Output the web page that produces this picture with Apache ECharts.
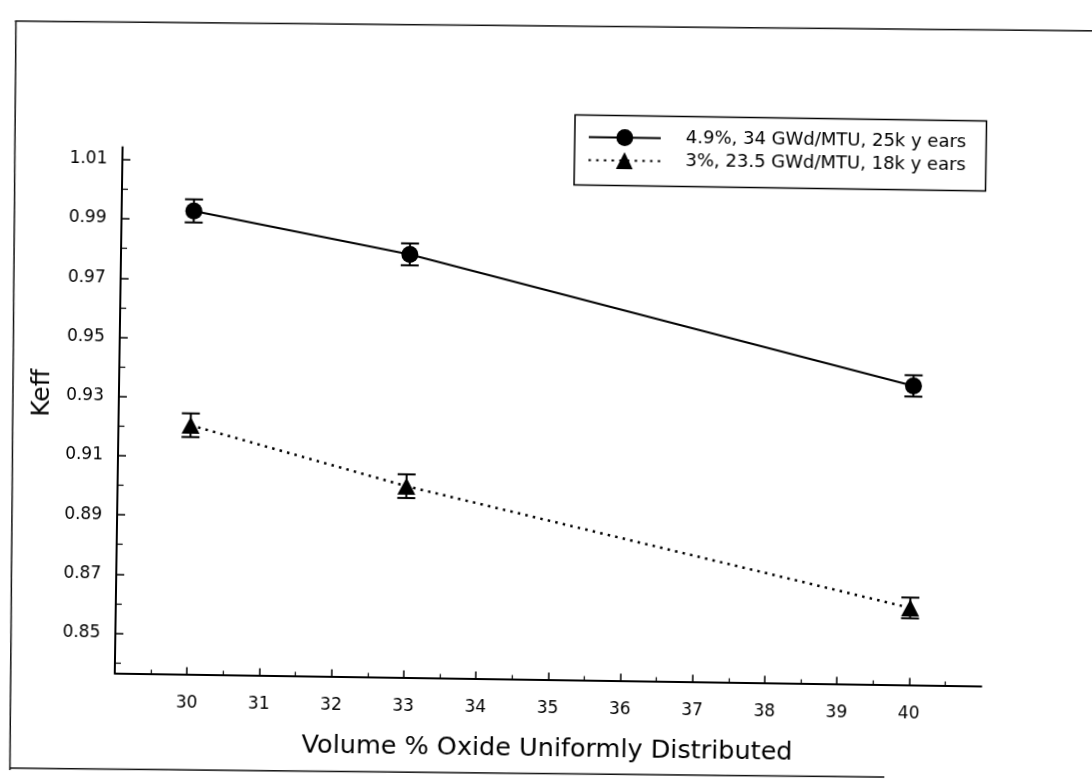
<!DOCTYPE html>
<html>
<head>
<meta charset="utf-8">
<script src="https://cdn.jsdelivr.net/npm/echarts@6/dist/echarts.min.js"></script>
<style>
  html, body { margin: 0; padding: 0; background: #ffffff; overflow: hidden; }
  #chart { width: 1092px; height: 783px; transform: rotate(0.85deg); transform-origin: 50% 50%; }
</style>
</head>
<body>
<div id="chart"></div>
<script>
// ---- data ----
const xValues = [30, 33, 40];
const seriesAName = '4.9%, 34 GWd/MTU, 25k y ears';
const seriesAValues = [0.9930, 0.9794, 0.9375];
const seriesAErrors = [0.0039, 0.0037, 0.0036];
const seriesBName = '3%, 23.5 GWd/MTU, 18k y ears';
const seriesBValues = [0.9206, 0.9011, 0.8625];
const seriesBErrors = [0.0040, 0.0040, 0.0035];
const xTickLabels = [30, 31, 32, 33, 34, 35, 36, 37, 38, 39, 40];
const xMinorTicks = [29.5, 30.5, 31.5, 32.5, 33.5, 34.5, 35.5, 36.5, 37.5, 38.5, 39.5, 40.5];
const yTickLabels = [0.85, 0.87, 0.89, 0.91, 0.93, 0.95, 0.97, 0.99, 1.01];
const yMinorTicks = [0.84, 0.86, 0.88, 0.90, 0.92, 0.94, 0.96, 0.98, 1.00];
const xAxisTitle = 'Volume % Oxide Uniformly Distributed';
const yAxisTitle = 'Keff';

// ---- chart ----
const FONT = 'DejaVu Sans';
const chart = echarts.init(document.getElementById('chart'), null, { renderer: 'canvas' });

function errorBars(xs, ys, es) {
  return xs.map((x, i) => [x, ys[i], es[i]]);
}
function renderErrorBar(params, api) {
  const x = api.value(0), y = api.value(1), e = api.value(2);
  const top = api.coord([x, y + e]);
  const bot = api.coord([x, y - e]);
  const hw = 9;
  const style = { stroke: '#000', lineWidth: 2 };
  return {
    type: 'group',
    children: [
      { type: 'line', shape: { x1: top[0], y1: top[1], x2: bot[0], y2: bot[1] }, style },
      { type: 'line', shape: { x1: top[0] - hw, y1: top[1], x2: top[0] + hw, y2: top[1] }, style },
      { type: 'line', shape: { x1: bot[0] - hw, y1: bot[1], x2: bot[0] + hw, y2: bot[1] }, style }
    ]
  };
}

const option = {
  backgroundColor: '#ffffff',
  animation: false,
  graphic: [
    { type: 'line', shape: { x1: 9.5, y1: 28.9, x2: 1100, y2: 22.8 }, style: { stroke: '#111', lineWidth: 1.5 } },
    { type: 'line', shape: { x1: 10.5, y1: 28.9, x2: 15.6, y2: 778 }, style: { stroke: '#111', lineWidth: 1.5 } },
    { type: 'line', shape: { x1: 15.6, y1: 776, x2: 890, y2: 772 }, style: { stroke: '#111', lineWidth: 1.5 } }
  ],
  grid: { left: 119, right: 106.4, top: 153.4, bottom: 103.5, containLabel: false },
  legend: {
    orient: 'vertical',
    left: 571, top: 114.5,
    padding: [13, 20, 16, 13],
    itemWidth: 72, itemHeight: 21, itemGap: 5,
    borderColor: '#000', borderWidth: 1.5, backgroundColor: '#fff',
    data: [seriesAName, seriesBName],
    textStyle: { fontFamily: FONT, fontSize: 18, color: '#000', padding: [0, 0, 0, 20] },
    selectedMode: false
  },
  xAxis: [
    {
      type: 'value', min: 29, max: 41,
      name: xAxisTitle, nameLocation: 'middle', nameGap: 57,
      nameTextStyle: { fontFamily: FONT, fontSize: 25.5, color: '#000' },
      axisLine: { show: true, lineStyle: { color: '#000', width: 2 } },
      axisTick: { show: true, inside: true, length: 7, customValues: xTickLabels, lineStyle: { color: '#000', width: 1.5 } },
      axisLabel: { show: true, customValues: xTickLabels, margin: 21, fontFamily: FONT, fontSize: 17, color: '#000' },
      splitLine: { show: false }
    },
    {
      type: 'value', min: 29, max: 41, position: 'bottom', offset: 0,
      axisLine: { show: false },
      axisTick: { show: true, inside: true, length: 4, customValues: xMinorTicks, lineStyle: { color: '#000', width: 1.2 } },
      axisLabel: { show: false },
      splitLine: { show: false }
    }
  ],
  yAxis: [
    {
      type: 'value', min: 0.8365, max: 1.0142,
      name: yAxisTitle, nameLocation: 'middle', nameGap: 62, nameRotate: 90,
      nameTextStyle: { fontFamily: FONT, fontSize: 25, color: '#000', padding: [0, 0, 0, 32] },
      axisLine: { show: true, lineStyle: { color: '#000', width: 2 } },
      axisTick: { show: true, inside: true, length: 8, customValues: yTickLabels, lineStyle: { color: '#000', width: 1.5 } },
      axisLabel: { show: true, customValues: yTickLabels, margin: 15, fontFamily: FONT, fontSize: 17, color: '#000',
        formatter: v => Number(v).toFixed(2) },
      splitLine: { show: false }
    },
    {
      type: 'value', min: 0.8365, max: 1.0142, position: 'left', offset: 0,
      axisLine: { show: false },
      axisTick: { show: true, inside: true, length: 6, customValues: yMinorTicks, lineStyle: { color: '#000', width: 1.2 } },
      axisLabel: { show: false },
      splitLine: { show: false }
    }
  ],
  series: [
    {
      type: 'custom', name: 'errA', xAxisIndex: 0, yAxisIndex: 0,
      renderItem: renderErrorBar, data: errorBars(xValues, seriesAValues, seriesAErrors), z: 1
    },
    {
      type: 'custom', name: 'errB', xAxisIndex: 0, yAxisIndex: 0,
      renderItem: renderErrorBar, data: errorBars(xValues, seriesBValues, seriesBErrors), z: 1
    },
    {
      type: 'line', name: seriesAName, xAxisIndex: 0, yAxisIndex: 0,
      data: xValues.map((x, i) => [x, seriesAValues[i]]),
      symbol: 'circle', symbolSize: 17,
      itemStyle: { color: '#000' },
      lineStyle: { color: '#000', width: 2, type: 'solid' },
      z: 3
    },
    {
      type: 'line', name: seriesBName, xAxisIndex: 0, yAxisIndex: 0,
      data: xValues.map((x, i) => [x, seriesBValues[i]]),
      symbol: 'triangle', symbolSize: [18, 17],
      itemStyle: { color: '#000' },
      lineStyle: { color: '#000', width: 2.5, type: [2.5, 5.2] },
      z: 3
    }
  ]
};
chart.setOption(option);
</script>
</body>
</html>
